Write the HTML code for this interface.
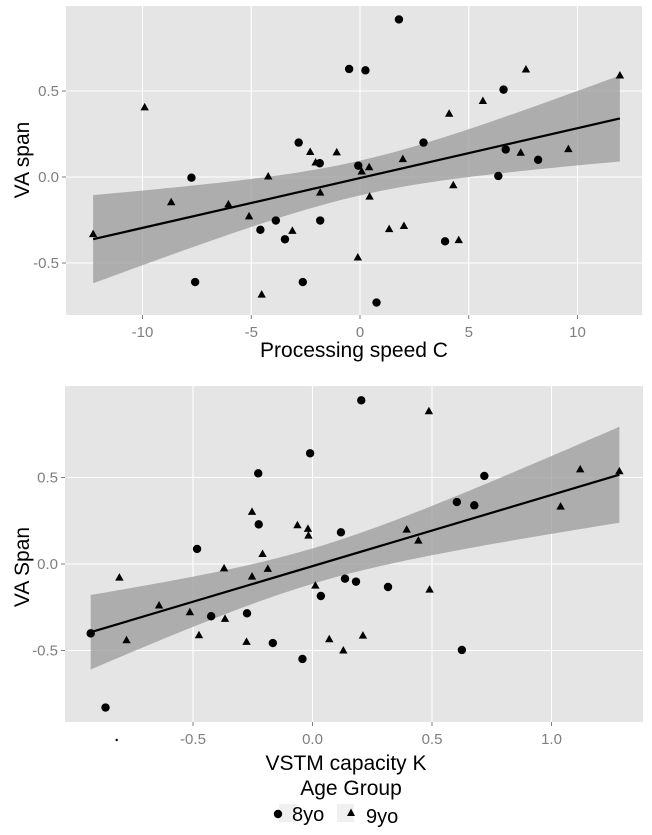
<!DOCTYPE html>
<html><head><meta charset="utf-8"><style>
html,body{margin:0;padding:0;background:#fff;}
svg{display:block;font-family:"Liberation Sans",Arial,sans-serif;}
</style></head><body>
<svg id="chart" width="652" height="835" viewBox="0 0 652 835"></svg>
<script>
// ---- Top panel data ----
const topXTicks = [-10, -5, 0, 5, 10];
const topYTicks = [-0.5, 0.0, 0.5];
const topYTickLabels = ["-0.5", "0.0", "0.5"];
const top8x = [1.79,-0.50,0.25,6.6,-2.82,2.92,6.7,-1.85,-0.08,8.19,-7.75,6.36,-3.87,-1.83,-4.58,-3.45,3.91,-7.58,-2.63,0.76];
const top8y = [0.916,0.628,0.62,0.508,0.20,0.20,0.16,0.08,0.066,0.10,-0.004,0.006,-0.253,-0.253,-0.307,-0.362,-0.374,-0.611,-0.611,-0.73];
const top9x = [-9.9,7.63,11.95,5.65,4.1,-2.29,-1.07,-2.04,1.97,7.39,9.58,0.42,0.08,-4.22,4.29,-1.83,0.44,-8.68,-6.05,-5.1,1.34,2.02,-3.11,4.54,-12.27,-0.1,-4.52];
const top9y = [0.405,0.625,0.59,0.442,0.368,0.145,0.143,0.084,0.104,0.141,0.162,0.057,0.032,0.003,-0.048,-0.091,-0.114,-0.147,-0.159,-0.229,-0.303,-0.285,-0.313,-0.367,-0.332,-0.468,-0.684];
// ---- Bottom panel data ----
const botXTicks = [-0.5, 0.0, 0.5, 1.0];
const botYTicks = [-0.5, 0.0, 0.5];
const bot8x = [0.204,-0.01,-0.227,0.719,0.604,0.677,-0.225,0.119,-0.483,0.136,0.182,0.316,0.035,-0.424,-0.274,-0.928,-0.166,-0.042,0.625,-0.866];
const bot8y = [0.946,0.64,0.524,0.509,0.358,0.339,0.229,0.183,0.087,-0.085,-0.102,-0.133,-0.185,-0.302,-0.285,-0.401,-0.457,-0.549,-0.497,-0.83];
const bot9x = [0.487,1.12,1.284,1.038,-0.253,-0.063,-0.019,-0.017,0.394,0.443,-0.209,-0.37,-0.187,-0.253,-0.808,0.012,0.49,-0.642,-0.513,-0.366,-0.475,-0.778,-0.276,0.07,0.211,0.129];
const bot9y = [0.883,0.547,0.536,0.332,0.301,0.224,0.203,0.164,0.199,0.135,0.058,-0.025,-0.028,-0.073,-0.079,-0.125,-0.148,-0.24,-0.279,-0.317,-0.412,-0.441,-0.45,-0.435,-0.414,-0.5];

const NS = "http://www.w3.org/2000/svg";
const svg = document.getElementById("chart");
function mk(tag, attrs, parent) {
  const e = document.createElementNS(NS, tag);
  for (const k in attrs) e.setAttribute(k, attrs[k]);
  (parent || svg).appendChild(e);
  return e;
}
function fmt(v){ return v<0 ? "-"+Math.abs(v).toFixed(1) : v.toFixed(1); }

function drawPanel(p) {
  const g = mk("g", {});
  
  
  const sx = v => p.x0 + (v - p.xa) * p.xs;
  const sy = v => p.y0 - v * p.ys;
  const bg = mk("rect", {x:p.left, y:p.top, width:p.right-p.left, height:p.bottom-p.top, fill:"#e5e5e5"}, g);
  
  
  p.xticks.forEach((t,i) => {
    const gl = mk("line", {x1:sx(t), x2:sx(t), y1:p.top, y2:p.bottom, stroke:"#fff", "stroke-width":1.1}, g);
    
    
    mk("line", {x1:sx(t), x2:sx(t), y1:p.bottom, y2:p.bottom+4, stroke:"#7f7f7f", "stroke-width":1}, g);
    const tx = mk("text", {x:sx(t), y:p.bottom+22, "text-anchor":"middle", "font-size":15, fill:"#7f7f7f"}, g);
    tx.textContent = p.xlabels ? p.xlabels[i] : String(t);
    
    
  });
  p.yticks.forEach((t,i) => {
    const gl = mk("line", {x1:p.left, x2:p.right, y1:sy(t), y2:sy(t), stroke:"#fff", "stroke-width":1.1}, g);
    
    
    mk("line", {x1:p.left-4, x2:p.left, y1:sy(t), y2:sy(t), stroke:"#7f7f7f", "stroke-width":1}, g);
    const tx = mk("text", {x:p.left-7, y:sy(t)+5, "text-anchor":"end", "font-size":15, fill:"#7f7f7f"}, g);
    tx.textContent = fmt(t);
    
    
  });
  // regression from data
  const xs = p.ax.concat(p.bx), ys = p.ay.concat(p.by);
  const n = xs.length;
  const mx = xs.reduce((a,b)=>a+b,0)/n, my = ys.reduce((a,b)=>a+b,0)/n;
  let sxx=0, sxy=0;
  for (let i=0;i<n;i++){ sxx+=(xs[i]-mx)**2; sxy+=(xs[i]-mx)*(ys[i]-my); }
  const b = sxy/sxx, a = my - b*mx;
  let sse=0; for (let i=0;i<n;i++) sse += (ys[i]-a-b*xs[i])**2;
  const s = Math.sqrt(sse/(n-2)), tq = 2.01;
  const xmin = Math.min(...xs), xmax = Math.max(...xs);
  const up=[], lo=[];
  for (let k=0;k<=80;k++){
    const x = xmin + (xmax-xmin)*k/80;
    const yh = a + b*x;
    const hw = tq*s*Math.sqrt(1/n + (x-mx)**2/sxx);
    up.push(sx(x).toFixed(2)+","+sy(yh+hw).toFixed(2));
    lo.unshift(sx(x).toFixed(2)+","+sy(yh-hw).toFixed(2));
  }
  const band = mk("polygon", {points: up.concat(lo).join(" "), fill:"#999999", "fill-opacity":0.75}, g);
  
  
  const line = mk("line", {x1:sx(xmin), y1:sy(a+b*xmin), x2:sx(xmax), y2:sy(a+b*xmax), stroke:"#000", "stroke-width":2.2}, g);
  
  
  p.ax.forEach((x,i) => {
    const c = mk("circle", {cx:sx(x), cy:sy(p.ay[i]), r:4.2, fill:"#000"}, g);
    
    
  });
  p.bx.forEach((x,i) => {
    const cx = sx(x), cy = sy(p.by[i]);
    const t = mk("polygon", {points:`${cx},${cy-4.5} ${cx-4.2},${cy+3} ${cx+4.2},${cy+3}`, fill:"#000"}, g);
    
    
  });
}

drawPanel({name:"top-panel", left:66, right:642, top:6, bottom:315, x0:360, xa:0, xs:21.75, y0:177, ys:172,
  xticks:topXTicks, yticks:topYTicks, ax:top8x, ay:top8y, bx:top9x, by:top9y});
drawPanel({name:"bottom-panel", left:65, right:643, top:386, bottom:722, x0:312.5, xa:0, xs:239, y0:564, ys:173,
  xticks:botXTicks, xlabels:["-0.5","0.0","0.5","1.0"], yticks:botYTicks, ax:bot8x, ay:bot8y, bx:bot9x, by:bot9y});
</script>
<svg width="0" height="0" style="position:absolute"></svg>
<div style="position:absolute;left:0;top:0;width:652px;height:835px;pointer-events:none;">
<svg width="652" height="835" style="font-family:'Liberation Sans',Arial,sans-serif">
  <text x="29" y="160" transform="rotate(-90 29 160)" text-anchor="middle" font-size="21" fill="#000">VA span</text>
  <text x="354" y="357" text-anchor="middle" font-size="21" fill="#000">Processing speed C</text>
  <text x="29" y="567" transform="rotate(-90 29 567)" text-anchor="middle" font-size="21" fill="#000">VA Span</text>
  <circle cx="116.7" cy="740" r="1.2" fill="#000"/>
  <text x="346" y="770" text-anchor="middle" font-size="21" fill="#000">VSTM capacity K</text>
  <text x="351" y="795" text-anchor="middle" font-size="21" fill="#000">Age Group</text>
  <g>
    <rect x="279" y="804" width="18" height="18" fill="#f0f0f0"/>
    <circle cx="278" cy="814" r="4.2" fill="#000"/>
    <text x="292" y="821" font-size="20" fill="#000">8yo</text>
  </g>
  <g>
    <rect x="337" y="804" width="17" height="18" fill="#f0f0f0"/>
    <polygon points="351,808.5 347,816 355,816" fill="#000"/>
    <text x="366" y="823" font-size="20" fill="#000">9yo</text>
  </g>
</svg>
</div>
</body></html>
